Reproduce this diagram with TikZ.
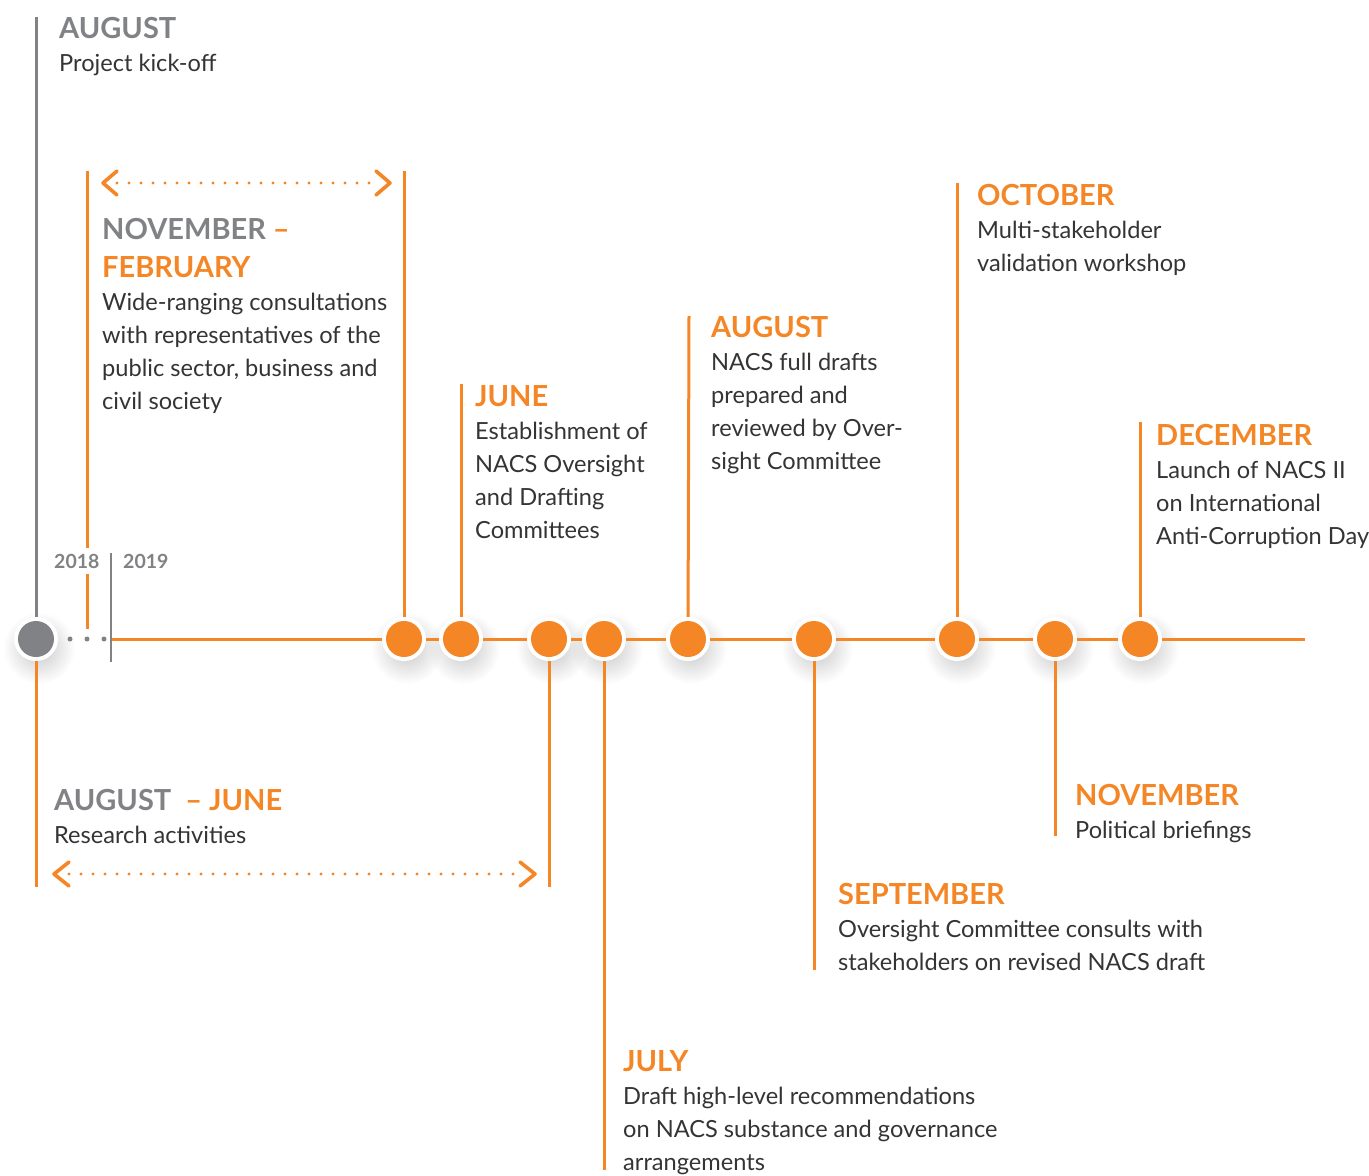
\documentclass[tikz,border=0pt]{standalone}
\usepackage{fontspec}
\setmainfont{Lato}
\usetikzlibrary{fadings}
\definecolor{tlorange}{RGB}{244,134,38}
\definecolor{tlgray}{RGB}{128,130,133}
\definecolor{tltext}{RGB}{52,52,54}
\tikzfading[name=softshadow, inner color=transparent!0, outer color=transparent!100]
\newcommand\tlbody{\fontsize{23.6}{33}\selectfont}
\newcommand\tlhead{\fontsize{29}{38}\selectfont\bfseries}
\newcommand\tlyear{\fontsize{19.5}{20}\selectfont\bfseries}
\begin{document}
\begin{tikzpicture}[x=1pt,y=-1pt,
  evline/.style={tlorange, line width=3pt},
  grline/.style={tlgray, line width=3pt},
  event/.style={anchor=base west, inner sep=0pt, align=left, font=\tlbody, text=tltext},
  ring/.style={circle, fill=white, minimum size=44pt, inner sep=0pt},
  odot/.style={circle, fill=tlorange, minimum size=36pt, inner sep=0pt},
  gdot/.style={circle, fill=tlgray, minimum size=36pt, inner sep=0pt},
  shadowdisc/.style={fill=black, opacity=0.22, path fading=softshadow},
  dotted line/.style={tlorange, line width=3.4pt, line cap=round, dash pattern=on 0pt off 12pt},
  chev/.style={tlorange, line width=3.6pt, line cap=round, line join=round},
  year/.style={anchor=base west, inner xsep=2pt, inner ysep=6pt, fill=white, font=\tlyear, text=tlgray},
  smalldot/.style={circle, fill=tlgray, minimum size=5pt, inner sep=0pt}
]
\useasboundingbox (0,0) rectangle (1369,1176);

% circle centres
\coordinate (c0) at (36,639);
\coordinate (c1) at (404,639);
\coordinate (c2) at (461,639);
\coordinate (c3) at (549,639);
\coordinate (c4) at (604,639);
\coordinate (c5) at (688,639);
\coordinate (c6) at (814,639);
\coordinate (c7) at (957,639);
\coordinate (c8) at (1055,639);
\coordinate (c9) at (1140,639);

% line end points
\coordinate (t0) at (36,17);
\coordinate (b0) at (36,887);
\coordinate (t1) at (404,171);
\coordinate (t2) at (461,384);
\coordinate (b3) at (549,887);
\coordinate (b4) at (604,1170);
\coordinate (t5) at (689,316);
\coordinate (b6) at (814,970);
\coordinate (t7) at (957,183);
\coordinate (b8) at (1055,836);
\coordinate (t9) at (1140,422);
\coordinate (nt) at (87,171);
\coordinate (nb) at (87,629);
\coordinate (ys) at (111,553);
\coordinate (ye) at (111,662);
\coordinate (le) at (1305,639);

% shadows
\foreach \c in {c0,c1,c2,c3,c4,c5,c6,c7,c8,c9}{
  \fill[shadowdisc] ([shift={(3,9)}]\c) circle (36);
}

% timeline
\draw[evline] (ys |- c0) -- (le);
\draw[grline] (t0) -- (c0);
\draw[evline] (c0) -- (b0);
\draw[evline] (nt) -- (nb);
\draw[tlgray, line width=2.6pt] (ys) -- (ye);
\draw[evline] (t1) -- (c1);
\draw[evline] (t2) -- (c2);
\draw[evline] (c3) -- (b3);
\draw[evline] (c4) -- (b4);
\draw[evline] (t5) -- (c5);
\draw[evline] (c6) -- (b6);
\draw[evline] (t7) -- (c7);
\draw[evline] (c8) -- (b8);
\draw[evline] (t9) -- (c9);

% small dots
\node[smalldot] (sd1) at (70,639) {};
\node[smalldot] (sd2) at (87,639) {};
\node[smalldot] (sd3) at (104,639) {};

% circles
\foreach \c in {c0,c1,c2,c3,c4,c5,c6,c7,c8,c9}{
  \node[ring] (r\c) at (\c) {};
}
\node[gdot] (n0) at (c0) {};
\foreach \c in {c1,c2,c3,c4,c5,c6,c7,c8,c9}{
  \node[odot] (n\c) at (\c) {};
}

% range arrows
\coordinate (a1l) at (103,183);
\coordinate (a1r) at (390,183);
\draw[dotted line] (117,183) -- (378,183);
\draw[chev] ([shift={(14,-12)}]a1l) -- (a1l) -- ([shift={(14,12)}]a1l);
\draw[chev] ([shift={(-14,-12)}]a1r) -- (a1r) -- ([shift={(-14,12)}]a1r);
\coordinate (a2l) at (54,874);
\coordinate (a2r) at (535,874);
\draw[dotted line] (69,874) -- (521,874);
\draw[chev] ([shift={(15,-12)}]a2l) -- (a2l) -- ([shift={(15,12)}]a2l);
\draw[chev] ([shift={(-15,-12)}]a2r) -- (a2r) -- ([shift={(-15,12)}]a2r);

% years
\node[year] (y18) at (52,568) {2018};
\node[year] (y19) at (121,568) {2019};

% texts (anchor = baseline of the last line)
\node[event] (e0) at (59,71) {{\tlhead\color{tlgray}AUGUST}\\Project kick-off};
\node[event] (e1) at (102,409) {{\tlhead\color{tlgray}NOVEMBER \color{tlorange}–}\\[5pt]{\tlhead\color{tlorange}FEBRUARY}\\Wide-ranging consultations\\with representatives of the\\public sector, business and\\civil society};
\node[event] (e2) at (475,538) {{\tlhead\color{tlorange}JUNE}\\Establishment of\\NACS Oversight\\and Drafting\\Committees};
\node[event] (e3) at (711,469) {{\tlhead\color{tlorange}AUGUST}\\NACS full drafts\\prepared and\\reviewed by Over-\\sight Committee};
\node[event] (e4) at (977,271) {{\tlhead\color{tlorange}OCTOBER}\\Multi-stakeholder\\validation workshop};
\node[event] (e5) at (1156,544) {{\tlhead\color{tlorange}DECEMBER}\\Launch of NACS II\\on International\\Anti-Corruption Day};
\node[event] (e6) at (54,843) {{\tlhead\color{tlgray}AUGUST\ \ \color{tlorange}– JUNE}\\Research activities};
\node[event] (e7) at (1075,838) {{\tlhead\color{tlorange}NOVEMBER}\\Political briefings};
\node[event] (e8) at (838,970) {{\tlhead\color{tlorange}SEPTEMBER}\\Oversight Committee consults with\\stakeholders on revised NACS draft};
\node[event] (e9) at (623,1170) {{\tlhead\color{tlorange}JULY}\\Draft high-level recommendations\\on NACS substance and governance\\arrangements};
\end{tikzpicture}
\end{document}
